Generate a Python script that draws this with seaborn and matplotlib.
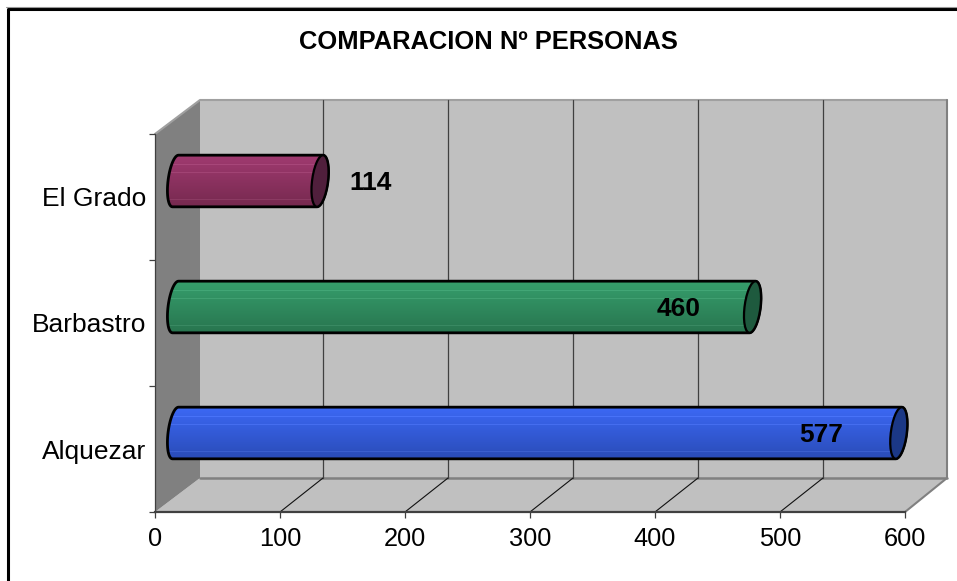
import numpy as np
import pandas as pd
import matplotlib
matplotlib.use('Agg')
import matplotlib.pyplot as plt
import seaborn as sns
from matplotlib.lines import Line2D
from matplotlib.patches import Polygon
from matplotlib.transforms import Affine2D, IdentityTransform

# --- Data ---
places = ['El Grado', 'Barbastro', 'Alquezar']
people = [114, 460, 577]
x_ticks = [0, 100, 200, 300, 400, 500, 600]

# --- Styles ---
top_colors = ['#A03A70', '#369E6C', '#3C68F4']
bottom_colors = ['#76294F', '#28754F', '#2A4CB8']
cap_colors = ['#501F3C', '#1E5A3E', '#1B3886']
label_offsets = [73, -51, -55]  # px from the end of the bar

W, H = 957, 581
sns.set_theme(style='white')
plt.rcParams['font.family'] = ['Liberation Sans', 'DejaVu Sans']

fig = plt.figure(figsize=(W / 100, H / 100), dpi=100, facecolor='white')
# front plane of the fake 3D box, px measured from the top left
ax = fig.add_axes([155 / W, 1 - 512 / H, 750 / W, 378 / H])
ax.patch.set_visible(False)

df = pd.DataFrame({'place': places, 'people': people})
sns.barplot(data=df, x='people', y='place', hue='place', palette=top_colors, legend=False,
            orient='h', width=0.41, saturation=1, linewidth=0, ax=ax)
ax.set_xlim(x_ticks[0], x_ticks[-1])
ax.set_ylim(2.5, -0.5)
ax.set_autoscale_on(False)

top_down = Affine2D().scale(1, -1).translate(0, H)


def wall(points, color, z=-5):
    fig.add_artist(Polygon(points, closed=True, facecolor=color, edgecolor='none',
                           transform=top_down, zorder=z))


def edge(points, color, lw=1.0, z=-4):
    xs, ys = zip(*points)
    fig.add_artist(Line2D(xs, ys, color=color, lw=lw, transform=top_down, zorder=z))


# --- Box ---
wall([(200, 100), (947, 100), (947, 478), (200, 478)], '#C0C0C0')
wall([(155, 512), (200, 478), (947, 478), (905, 512)], '#C0C0C0')
wall([(155, 134), (200, 100), (200, 478), (155, 512)], '#808080')
edge([(155, 134), (200, 100), (947, 100)], '#A0A0A0', 1.5)
edge([(947, 100), (947, 478), (905, 512)], '#808080', 1.5)
edge([(200, 478), (947, 478)], '#808080', 1.8)
for t in x_ticks[1:-1]:
    px = ax.transData.transform((t, 0))[0]
    edge([(px, 512), (px + 43, 478)], '#111111', 0.8)
    edge([(px + 43, 100), (px + 43, 478)], '#404040', 0.9)

# outer frame, only top and left are visible
edge([(7.5, H), (7.5, 9), (W, 9)], 'black', 2.2, z=-3)
edge([(6, 7), (W, 7)], '#999999', 0.8, z=-3)

# --- Cylinders ---
shift = ax.transData + Affine2D().translate(22.5, 16)
half_h = 0.41 / 2 * 126
ang = np.linspace(-np.pi / 2, np.pi / 2, 30)

for i, (bar, value) in enumerate(zip(ax.patches, people)):
    bar.set_transform(shift)
    bar.set_clip_on(False)
    x0, yc = shift.transform((0, i))
    x1 = shift.transform((value, 0))[0]

    right = np.column_stack([x1 + 8 * np.cos(ang) + 3 * np.sin(ang), yc + half_h * np.sin(ang)])
    left = np.column_stack([x0 - 2 - 7.5 * np.cos(ang[::-1]) + 3 * np.sin(ang[::-1]), yc + half_h * np.sin(ang[::-1])])
    body = Polygon(np.vstack([right, left]), closed=True, facecolor='none', edgecolor='black',
                   lw=2, transform=IdentityTransform(), zorder=3, clip_on=False)
    ax.add_patch(body)

    # vertical shading with a few pale stripes
    c_top = np.array(matplotlib.colors.to_rgb(top_colors[i]))
    c_bot = np.array(matplotlib.colors.to_rgb(bottom_colors[i]))
    frac = np.linspace(0, 1, 52)[:, None]
    img = c_top * (1 - frac) + c_bot * frac
    img[[9, 17, 44]] = np.minimum(img[[9, 17, 44]] + 0.06, 1)
    im = ax.imshow(img[:, None, :], aspect='auto', zorder=2,
                   extent=(x0 - 15, x1 + 15, yc - half_h, yc + half_h), origin='upper',
                   transform=IdentityTransform())
    im.set_clip_path(body)

    cap = np.column_stack([x1 + 8 * np.cos(2 * ang) + 3 * np.sin(2 * ang), yc + half_h * np.sin(2 * ang)])
    ax.add_patch(Polygon(cap, closed=True, facecolor=cap_colors[i], edgecolor='black', lw=1.6,
                         transform=IdentityTransform(), zorder=4, clip_on=False))

    ax.annotate(str(value), xy=(value, i), xytext=(label_offsets[i] * 0.72, 14.5 * 0.72),
                textcoords='offset points', ha='center', va='center', fontsize=19,
                fontweight='bold', color='black', zorder=6, annotation_clip=False)

ax.set_xlim(x_ticks[0], x_ticks[-1])
ax.set_ylim(2.5, -0.5)

# --- Axes ---
for side in ['top', 'right']:
    ax.spines[side].set_visible(False)
for side in ['left', 'bottom']:
    ax.spines[side].set_color('#404040')
ax.spines['left'].set_linewidth(0.9)
ax.spines['bottom'].set_linewidth(1.6)

ax.set_xlabel('')
ax.set_ylabel('')
ax.set_xticks(x_ticks)
ax.set_yticks(range(len(places)), places)
ax.set_yticks([-0.5, 0.5, 1.5, 2.5], minor=True)
ax.tick_params(axis='x', which='major', bottom=True, length=4.5, width=0.9, color='#404040', pad=6,
               labelsize=18.3, labelcolor='black')
ax.tick_params(axis='y', which='major', left=False, pad=0, labelsize=19, labelcolor='black')
ax.tick_params(axis='y', which='minor', left=True, length=4.5, width=0.9, color='#404040')

fig.text(488 / W, 1 - 42 / H, 'COMPARACION Nº PERSONAS', ha='center', va='center',
         fontsize=18.4, fontweight='bold', color='black')

fig.savefig('out.png', dpi=100)
